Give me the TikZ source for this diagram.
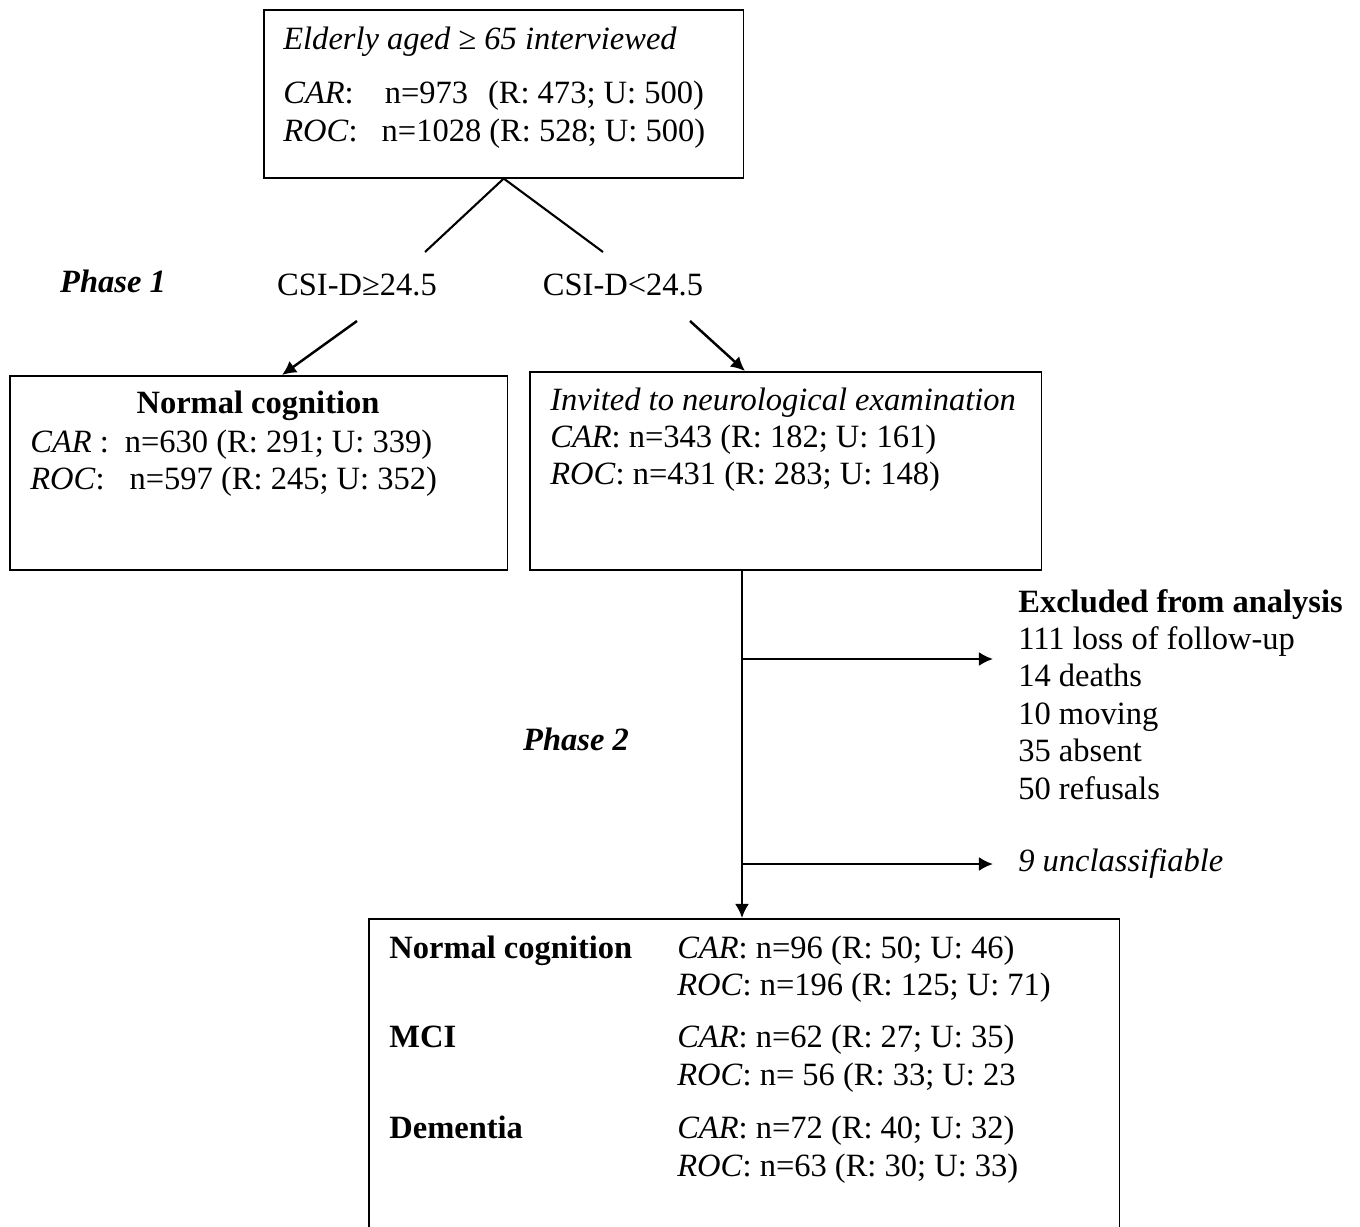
\documentclass[tikz,border=0pt]{standalone}
\usepackage{fontspec}
\setmainfont{Liberation Serif}
\usetikzlibrary{arrows.meta}

\begin{document}
\begin{tikzpicture}[
  x=0.02cm, y=-0.02cm,
  block/.style={rectangle, draw, line width=0.9pt, anchor=north west, inner sep=0pt},
  txt/.style={anchor=base west, inner sep=0pt, font=\fontsize{18.5}{21.3}\selectfont},
  line/.style={draw, line width=1.4pt, -{Latex[length=8pt,width=8pt]}},
  stroke/.style={draw, line width=1.2pt}
]
  \useasboundingbox (0,0) rectangle (1360,1227);
  \clip (0,0) rectangle (1360,1227);

  % boxes
  \node [block, minimum width=9.6cm, minimum height=3.36cm] (elderly) at (263,9) {};
  \node [block, minimum width=9.96cm, minimum height=3.88cm] (normal) at (9,375) {};
  \node [block, minimum width=10.24cm, minimum height=3.96cm] (invited) at (529,371) {};
  \node [block, minimum width=15.02cm, minimum height=6.6cm] (result) at (368,918) {};

  % texts
  \node [txt] (elderlytxt) at (283,50) {\begin{tabular}[t]{@{}l@{}}
    \textit{Elderly aged ≥ 65 interviewed}\\[0.33cm]
    \textit{CAR}:\hspace{0.62cm}n=973\hspace{0.4cm}(R: 473; U: 500)\\
    \textit{ROC}:\hspace{0.48cm}n=1028 (R: 528; U: 500)
  \end{tabular}};
  \node [txt, anchor=base] (phaseone) at (113,292) {\textbf{\textit{Phase 1}}};
  \node [txt, anchor=base] (csihigh) at (357,295) {CSI-D≥24.5};
  \node [txt, anchor=base] (csilow) at (623,295) {CSI-D<24.5};
  \node [txt, anchor=base] (normaltitle) at (258,413) {\textbf{Normal cognition}};
  \node [txt] (normaltxt) at (30,452) {\begin{tabular}[t]{@{}l@{}}
    \textit{CAR} :\hspace{0.32cm}n=630 (R: 291; U: 339)\\
    \textit{ROC}:\hspace{0.5cm}n=597 (R: 245; U: 352)
  \end{tabular}};
  \node [txt] (invitedtxt) at (550,410) {\begin{tabular}[t]{@{}l@{}}
    \textit{Invited to neurological examination}\\
    \textit{CAR}: n=343 (R: 182; U: 161)\\
    \textit{ROC}: n=431 (R: 283; U: 148)
  \end{tabular}};
  \node [txt] (excluded) at (1018,612) {\begin{tabular}[t]{@{}l@{}}
    \textbf{Excluded from analysis}\\
    111 loss of follow-up\\
    14 deaths\\
    10 moving\\
    35 absent\\
    50 refusals
  \end{tabular}};
  \node [txt] (unclass) at (1018,871) {\textit{9 unclassifiable}};
  \node [txt, anchor=base] (phasetwo) at (576,750) {\textbf{\textit{Phase 2}}};
  \node [txt] (resulttxt) at (389,958) {\begin{tabular}[t]{@{}p{5.76cm}@{}l@{}}
    \textbf{Normal cognition} & \textit{CAR}: n=96 (R: 50; U: 46)\\
     & \textit{ROC}: n=196 (R: 125; U: 71)\\[0.3cm]
    \textbf{MCI} & \textit{CAR}: n=62 (R: 27; U: 35)\\
     & \textit{ROC}: n= 56 (R: 33; U: 23\\[0.32cm]
    \textbf{Dementia} & \textit{CAR}: n=72 (R: 40; U: 32)\\
     & \textit{ROC}: n=63 (R: 30; U: 33)
  \end{tabular}};

  % connectors
  \coordinate (split1) at (425,252);
  \coordinate (split2) at (603,252);
  \coordinate (a1) at (357,321);
  \coordinate (a1end) at (282,0);
  \coordinate (a2) at (690,321);
  \coordinate (a2end) at (745,0);
  \coordinate (stem) at (742,0);
  \coordinate (excl1) at (993,659);
  \coordinate (excl2) at (993,864);

  \path [stroke] (elderly.south) -- (split1);
  \path [stroke] (elderly.south) -- (split2);
  \path [line] (a1) -- (normal.north -| a1end);
  \path [line] (a2) -- (invited.north -| a2end);
  \path [line] (invited.south -| stem) -- (result.north -| stem);
  \path [line] (stem |- excl1) -- (excl1);
  \path [line] (stem |- excl2) -- (excl2);
\end{tikzpicture}
\end{document}
